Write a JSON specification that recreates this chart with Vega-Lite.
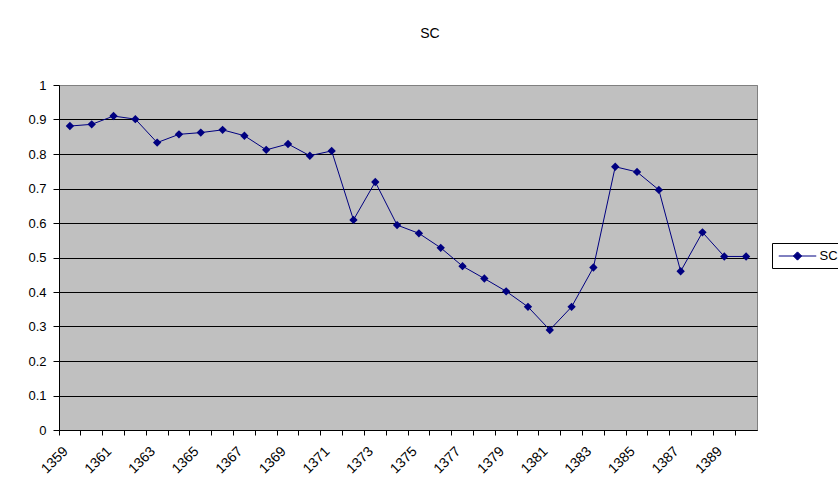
{
  "$schema": "https://vega.github.io/schema/vega-lite/v6.json",
  "autosize": "none",
  "width": 698,
  "height": 345,
  "padding": {"left": 59, "top": 85, "right": 81, "bottom": 63},
  "background": "white",
  "title": {
    "text": "SC",
    "anchor": "middle",
    "dx": 22,
    "offset": 38,
    "font": "Liberation Sans",
    "fontSize": 14,
    "fontWeight": "normal",
    "color": "black"
  },
  "config": {
    "view": {"fill": "#C0C0C0", "stroke": "#808080", "strokeWidth": 1},
    "axis": {
      "labelFont": "Liberation Sans",
      "labelFontSize": 13,
      "labelColor": "black",
      "domainColor": "black",
      "tickColor": "black",
      "titleFont": "Liberation Sans"
    }
  },
  "data": {
    "values": [
      {"year": 1359, "value": 0.881, "series": "SC"},
      {"year": 1360, "value": 0.886, "series": "SC"},
      {"year": 1361, "value": 0.910, "series": "SC"},
      {"year": 1362, "value": 0.901, "series": "SC"},
      {"year": 1363, "value": 0.833, "series": "SC"},
      {"year": 1364, "value": 0.857, "series": "SC"},
      {"year": 1365, "value": 0.862, "series": "SC"},
      {"year": 1366, "value": 0.870, "series": "SC"},
      {"year": 1367, "value": 0.853, "series": "SC"},
      {"year": 1368, "value": 0.812, "series": "SC"},
      {"year": 1369, "value": 0.829, "series": "SC"},
      {"year": 1370, "value": 0.795, "series": "SC"},
      {"year": 1371, "value": 0.809, "series": "SC"},
      {"year": 1372, "value": 0.609, "series": "SC"},
      {"year": 1373, "value": 0.719, "series": "SC"},
      {"year": 1374, "value": 0.594, "series": "SC"},
      {"year": 1375, "value": 0.570, "series": "SC"},
      {"year": 1376, "value": 0.528, "series": "SC"},
      {"year": 1377, "value": 0.475, "series": "SC"},
      {"year": 1378, "value": 0.439, "series": "SC"},
      {"year": 1379, "value": 0.402, "series": "SC"},
      {"year": 1380, "value": 0.357, "series": "SC"},
      {"year": 1381, "value": 0.290, "series": "SC"},
      {"year": 1382, "value": 0.357, "series": "SC"},
      {"year": 1383, "value": 0.471, "series": "SC"},
      {"year": 1384, "value": 0.763, "series": "SC"},
      {"year": 1385, "value": 0.748, "series": "SC"},
      {"year": 1386, "value": 0.696, "series": "SC"},
      {"year": 1387, "value": 0.460, "series": "SC"},
      {"year": 1388, "value": 0.573, "series": "SC"},
      {"year": 1389, "value": 0.503, "series": "SC"},
      {"year": 1390, "value": 0.503, "series": "SC"}
    ]
  },
  "mark": {
    "type": "line",
    "strokeWidth": 1,
    "point": {"shape": "diamond", "filled": true, "size": 70}
  },
  "encoding": {
    "x": {
      "field": "year",
      "type": "ordinal",
      "scale": {"type": "band", "paddingInner": 0, "paddingOuter": 0},
      "axis": {
        "title": null,
        "bandPosition": 0,
        "labelAngle": -45,
        "labelAlign": "right",
        "labelBaseline": "middle",
        "labelFontSize": 14,
        "labelOffset": -4,
        "labelPadding": 14,
        "tickSize": 5,
        "grid": false,
        "labelExpr": "datum.value % 2 == 1 ? datum.label : ''"
      }
    },
    "y": {
      "field": "value",
      "type": "quantitative",
      "scale": {"domain": [0, 1], "nice": false, "zero": true},
      "axis": {
        "title": null,
        "values": [0, 0.1, 0.2, 0.3, 0.4, 0.5, 0.6, 0.7, 0.8, 0.9, 1],
        "format": "~g",
        "grid": true,
        "gridColor": {"condition": {"test": "datum.value == 1", "value": "#808080"}, "value": "black"},
        "gridOpacity": 1,
        "gridWidth": 1,
        "tickSize": 6,
        "labelPadding": 7
      }
    },
    "color": {
      "field": "series",
      "type": "nominal",
      "scale": {"range": ["#000080"]},
      "legend": {
        "title": null,
        "orient": "none",
        "legendX": 713,
        "legendY": 158,
        "fillColor": "white",
        "strokeColor": "black",
        "padding": 5,
        "symbolType": "M-2.5,0H2.5M0,-0.55L0.55,0L0,0.55L-0.55,0Z",
        "symbolSize": 225,
        "symbolStrokeWidth": 1,
        "symbolFillColor": "#000080",
        "symbolStrokeColor": "#000080",
        "symbolOffset": 12.5,
        "labelOffset": 14,
        "labelFont": "Liberation Sans",
        "labelFontSize": 13,
        "labelColor": "black"
      }
    }
  }
}
